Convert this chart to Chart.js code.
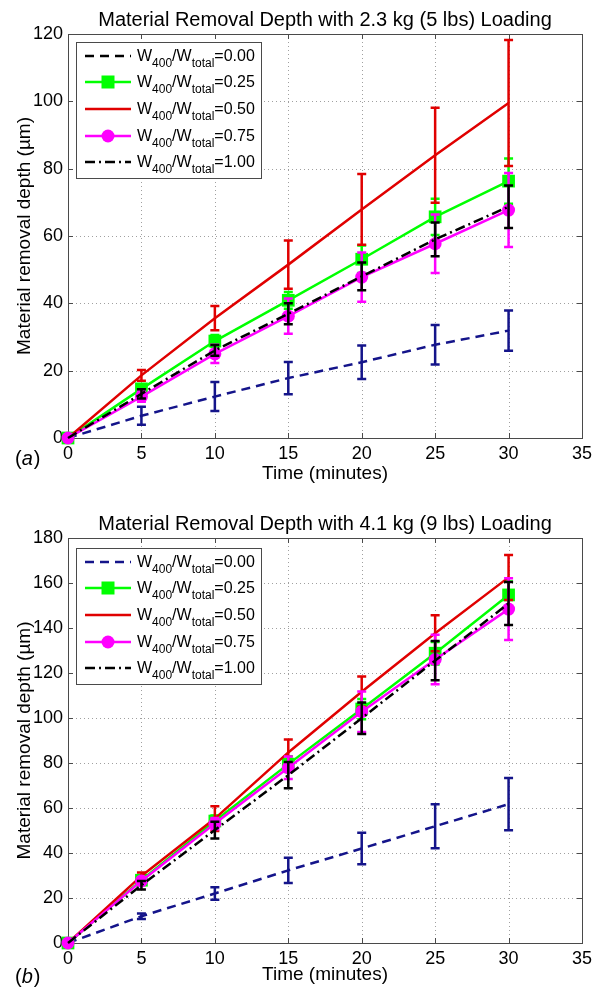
<!DOCTYPE html>
<html><head><meta charset="utf-8">
<script src="https://cdn.jsdelivr.net/npm/chart.js@4/dist/chart.umd.min.js"></script>
<style>
html,body{margin:0;padding:0;background:#fff;}
.wrap{position:relative;width:603px;height:494px;}
canvas{display:block;}
</style></head><body>
<div class="wrap"><canvas id="c1" width="603" height="494"></canvas></div>
<div class="wrap"><canvas id="c2" width="603" height="494"></canvas></div>
<script>
// ---------- DATA ----------
const timeMinutes = [0, 5, 10, 15, 20, 25, 30];
const ratioLabels = ['0.00', '0.25', '0.50', '0.75', '1.00'];
const xTicks = [0, 5, 10, 15, 20, 25, 30, 35];
const yTicksA = [0, 20, 40, 60, 80, 100, 120];
const yTicksB = [0, 20, 40, 60, 80, 100, 120, 140, 160, 180];

// Panel (a): 2.3 kg (5 lbs) loading — mean depth (µm) and error half-widths
const a_r000 = [0, 6.6, 12.3, 17.8, 22.5, 27.7, 31.9];
const a_r000_err = [0, 2.7, 4.3, 4.8, 5.0, 5.9, 6.0];
const a_r025 = [0, 14.6, 28.8, 40.9, 53.1, 65.7, 76.3];
const a_r025_err = [0, 1.0, 1.8, 2.5, 4.1, 5.4, 6.7];
const a_r050 = [0, 18.6, 35.6, 51.5, 67.9, 84.0, 99.5];
const a_r050_err = [0, 1.6, 3.6, 7.2, 10.5, 14.1, 18.7];
const a_r075 = [0, 12.3, 25.0, 36.2, 47.8, 57.7, 67.7];
const a_r075_err = [0, 1.5, 2.7, 5.2, 7.3, 8.7, 11.0];
const a_r100 = [0, 13.1, 26.0, 36.9, 48.0, 59.0, 68.7];
const a_r100_err = [0, 1.4, 1.6, 3.1, 4.1, 5.0, 6.3];

// Panel (b): 4.1 kg (9 lbs) loading
const b_r000 = [0, 11.9, 22.0, 32.3, 42.0, 51.9, 61.7];
const b_r000_err = [0, 1.2, 2.8, 5.6, 7.0, 9.8, 11.6];
const b_r025 = [0, 27.9, 54.2, 79.5, 104.0, 128.8, 154.7];
const b_r025_err = [0, 1.5, 2.5, 3.5, 4.5, 5.0, 6.0];
const b_r050 = [0, 29.8, 55.3, 84.7, 111.7, 137.7, 162.5];
const b_r050_err = [0, 1.5, 5.5, 5.8, 6.7, 8.0, 10.0];
const b_r075 = [0, 27.6, 53.1, 77.9, 102.8, 126.0, 148.4];
const b_r075_err = [0, 1.5, 2.5, 5.0, 9.0, 11.0, 13.7];
const b_r100 = [0, 25.7, 50.2, 74.6, 99.9, 125.5, 150.9];
const b_r100_err = [0, 1.9, 3.7, 5.8, 7.0, 8.7, 9.6];

// ---------- STYLE ----------
const FAMILY = '"Liberation Sans", Arial, Helvetica, sans-serif';
const NAVY = '#14148a', GREEN = '#00ff00', RED = '#e00000', MAGENTA = '#ff00ff', BLACK = '#000000';
const FRAME = '#4a4a4a';
const LW = 2.5;

// ---------- PLUGINS ----------
const matFrame = {
  id: 'matFrame',
  beforeDatasetsDraw(chart) {
    const ctx = chart.ctx, {left, right, top, bottom} = chart.chartArea;
    const xs = chart.scales.x, ys = chart.scales.y;
    ctx.save();
    ctx.lineWidth = 1;
    ctx.strokeStyle = '#a0a0a0';
    ctx.setLineDash([1, 3]);
    xs.ticks.forEach(t => {
      const px = Math.round(xs.getPixelForValue(t.value)) + 0.5;
      if (px <= left + 1 || px >= right - 1) return;
      ctx.beginPath(); ctx.moveTo(px, top); ctx.lineTo(px, bottom); ctx.stroke();
    });
    ys.ticks.forEach(t => {
      const py = Math.round(ys.getPixelForValue(t.value)) + 0.5;
      if (py <= top + 1 || py >= bottom - 1) return;
      ctx.beginPath(); ctx.moveTo(left, py); ctx.lineTo(right, py); ctx.stroke();
    });
    ctx.setLineDash([]);
    ctx.strokeStyle = FRAME;
    ctx.strokeRect(Math.round(left) + 0.5, Math.round(top) + 0.5, Math.round(right - left), Math.round(bottom - top));
    const tl = 5;
    xs.ticks.forEach(t => {
      const px = Math.round(xs.getPixelForValue(t.value)) + 0.5;
      ctx.beginPath();
      ctx.moveTo(px, bottom); ctx.lineTo(px, bottom - tl);
      ctx.moveTo(px, top); ctx.lineTo(px, top + tl);
      ctx.stroke();
    });
    ys.ticks.forEach(t => {
      const py = Math.round(ys.getPixelForValue(t.value)) + 0.5;
      ctx.beginPath();
      ctx.moveTo(left, py); ctx.lineTo(left + tl, py);
      ctx.moveTo(right, py); ctx.lineTo(right - tl, py);
      ctx.stroke();
    });
    ctx.restore();
  }
};

const errorBars = {
  id: 'errorBars',
  afterDatasetDraw(chart, args) {
    const ds = chart.data.datasets[args.index];
    if (!ds.errors) return;
    const ctx = chart.ctx, xs = chart.scales.x, ys = chart.scales.y;
    ctx.save();
    ctx.strokeStyle = ds.borderColor;
    ctx.lineWidth = LW;
    ctx.setLineDash([]);
    ds.data.forEach((p, i) => {
      const e = ds.errors[i];
      if (!e) return;
      const px = xs.getPixelForValue(p.x);
      const y1 = ys.getPixelForValue(p.y + e), y2 = ys.getPixelForValue(p.y - e);
      const cw = 4.5;
      ctx.beginPath();
      ctx.moveTo(px, y1); ctx.lineTo(px, y2);
      ctx.moveTo(px - cw, y1); ctx.lineTo(px + cw, y1);
      ctx.moveTo(px - cw, y2); ctx.lineTo(px + cw, y2);
      ctx.stroke();
    });
    ctx.restore();
  }
};

const matLegend = {
  id: 'matLegend',
  afterDraw(chart, args, opts) {
    const ctx = chart.ctx, {left, top} = chart.chartArea;
    const bx = left + opts.offsetX, by = top + opts.offsetY, bw = opts.width, bh = opts.height;
    ctx.save();
    ctx.fillStyle = '#fff';
    ctx.fillRect(bx, by, bw, bh);
    ctx.strokeStyle = FRAME; ctx.lineWidth = 1;
    ctx.strokeRect(Math.round(bx) + 0.5, Math.round(by) + 0.5, bw, bh);
    chart.data.datasets.forEach((ds, i) => {
      const ry = Math.round(by + 13.5 + 26.7 * i);
      const color = (opts.colors && opts.colors[i]) || ds.borderColor;
      ctx.strokeStyle = color; ctx.lineWidth = LW;
      ctx.setLineDash(ds.borderDash || []);
      ctx.beginPath(); ctx.moveTo(bx + 9, ry); ctx.lineTo(bx + 55, ry); ctx.stroke();
      ctx.setLineDash([]);
      const mx = bx + 32;
      ctx.fillStyle = color;
      if (ds.pointStyle === 'rect') ctx.fillRect(mx - 6.5, ry - 6.5, 13, 13);
      else if (ds.pointStyle === 'circle') { ctx.beginPath(); ctx.arc(mx, ry, 6.5, 0, Math.PI * 2); ctx.fill(); }
      let x = bx + 61;
      const base = ry + 5;
      ctx.fillStyle = '#000';
      ctx.textBaseline = 'alphabetic'; ctx.textAlign = 'left';
      const main = '16px ' + FAMILY, sub = '12px ' + FAMILY;
      const parts = [['W', main, 0], ['400', sub, 6], ['/W', main, 0], ['total', sub, 6], ['=' + ratioLabels[i], main, 0]];
      parts.forEach(([t, f, dy]) => {
        ctx.font = f;
        ctx.fillText(t, x, base + dy);
        x += ctx.measureText(t).width;
      });
    });
    ctx.restore();
  }
};

const panelLabel = {
  id: 'panelLabel',
  afterDraw(chart, args, opts) {
    const ctx = chart.ctx;
    ctx.save();
    ctx.fillStyle = '#000';
    ctx.textBaseline = 'middle'; ctx.textAlign = 'left';
    let x = opts.x;
    const parts = [['(', '20px ' + FAMILY], [opts.letter, 'italic 20px ' + FAMILY], [')', '20px ' + FAMILY]];
    parts.forEach(([t, f]) => {
      ctx.font = f;
      ctx.fillText(t, x, opts.y);
      x += ctx.measureText(t).width + (f.startsWith('italic') ? 1 : 0);
    });
    ctx.restore();
  }
};

function pts(vals) { return timeMinutes.map((t, i) => ({x: t, y: vals[i]})); }

function buildChart(id, p) {
  const common = {fill: false, borderWidth: LW, tension: 0, clip: false, pointHoverRadius: 0};
  const datasets = [
    Object.assign({}, common, {label: 'W400/Wtotal=' + ratioLabels[0], data: pts(p.s[0]), errors: p.e[0], borderColor: NAVY, backgroundColor: NAVY, borderDash: [9, 6], pointRadius: 0, order: 4}),
    Object.assign({}, common, {label: 'W400/Wtotal=' + ratioLabels[1], data: pts(p.s[1]), errors: p.e[1], borderColor: GREEN, backgroundColor: GREEN, pointStyle: 'rect', pointRadius: 9, pointBorderWidth: 0, order: 3}),
    Object.assign({}, common, {label: 'W400/Wtotal=' + ratioLabels[2], data: pts(p.s[2]), errors: p.e[2], borderColor: RED, backgroundColor: RED, pointRadius: 0, order: 2}),
    Object.assign({}, common, {label: 'W400/Wtotal=' + ratioLabels[3], data: pts(p.s[3]), errors: p.e[3], borderColor: MAGENTA, backgroundColor: MAGENTA, pointStyle: 'circle', pointRadius: 6.5, pointBorderWidth: 0, order: 1}),
    Object.assign({}, common, {label: 'W400/Wtotal=' + ratioLabels[4], data: pts(p.s[4]), errors: p.e[4], borderColor: BLACK, backgroundColor: BLACK, borderDash: [10, 4, 2, 4], pointRadius: 0, order: 0})
  ];
  return new Chart(document.getElementById(id), {
    type: 'line',
    data: {datasets},
    plugins: [matFrame, errorBars, matLegend, panelLabel],
    options: {
      responsive: false, animation: false, events: [],
      layout: {padding: {left: 0, right: 21, top: 0, bottom: 0}},
      plugins: {
        legend: {display: false}, tooltip: {enabled: false},
        title: {display: true, text: p.title, color: '#000', fullSize: false,
          font: {family: FAMILY, size: 20, weight: 'normal'}, padding: {top: p.titleTop, bottom: 2}},
        matLegend: {offsetX: 8, offsetY: p.legendY, width: 185, height: 136, colors: p.legendColors},
        panelLabel: {x: 15, y: p.labelY, letter: p.letter}
      },
      scales: {
        x: {
          type: 'linear', min: 0, max: 35,
          afterBuildTicks: s => { s.ticks = xTicks.map(v => ({value: v})); },
          ticks: {autoSkip: false, maxRotation: 0, color: '#000', padding: 5, font: {family: FAMILY, size: 18}},
          grid: {display: false, drawTicks: false}, border: {display: false},
          title: {display: true, text: 'Time (minutes)', color: '#000', font: {family: FAMILY, size: 19}, padding: {top: 0, bottom: p.xTitleBottom}},
          afterFit: s => { s.height = p.xHeight; }
        },
        y: {
          type: 'linear', min: 0, max: p.yMax,
          afterBuildTicks: s => { s.ticks = p.yTicks.map(v => ({value: v})); },
          ticks: {autoSkip: false, color: '#000', padding: 5, font: {family: FAMILY, size: 18}},
          grid: {display: false, drawTicks: false}, border: {display: false},
          title: {display: true, text: 'Material removal depth (µm)', color: '#000', font: {family: FAMILY, size: 19}, padding: {top: 13, bottom: 0}},
          afterFit: s => { s.width = 68; }
        }
      }
    }
  });
}

buildChart('c1', {
  title: 'Material Removal Depth with 2.3 kg (5 lbs) Loading',
  s: [a_r000, a_r025, a_r050, a_r075, a_r100],
  e: [a_r000_err, a_r025_err, a_r050_err, a_r075_err, a_r100_err],
  yMax: 120, yTicks: yTicksA, titleTop: 8, xHeight: 56, xTitleBottom: 8.6,
  legendY: 8, legendColors: [BLACK], letter: 'a', labelY: 459
});
buildChart('c2', {
  title: 'Material Removal Depth with 4.1 kg (9 lbs) Loading',
  s: [b_r000, b_r025, b_r050, b_r075, b_r100],
  e: [b_r000_err, b_r025_err, b_r050_err, b_r075_err, b_r100_err],
  yMax: 180, yTicks: yTicksB, titleTop: 18, xHeight: 45, xTitleBottom: 1.6,
  legendY: 10, legendColors: null, letter: 'b', labelY: 483
});
</script>
</body></html>
